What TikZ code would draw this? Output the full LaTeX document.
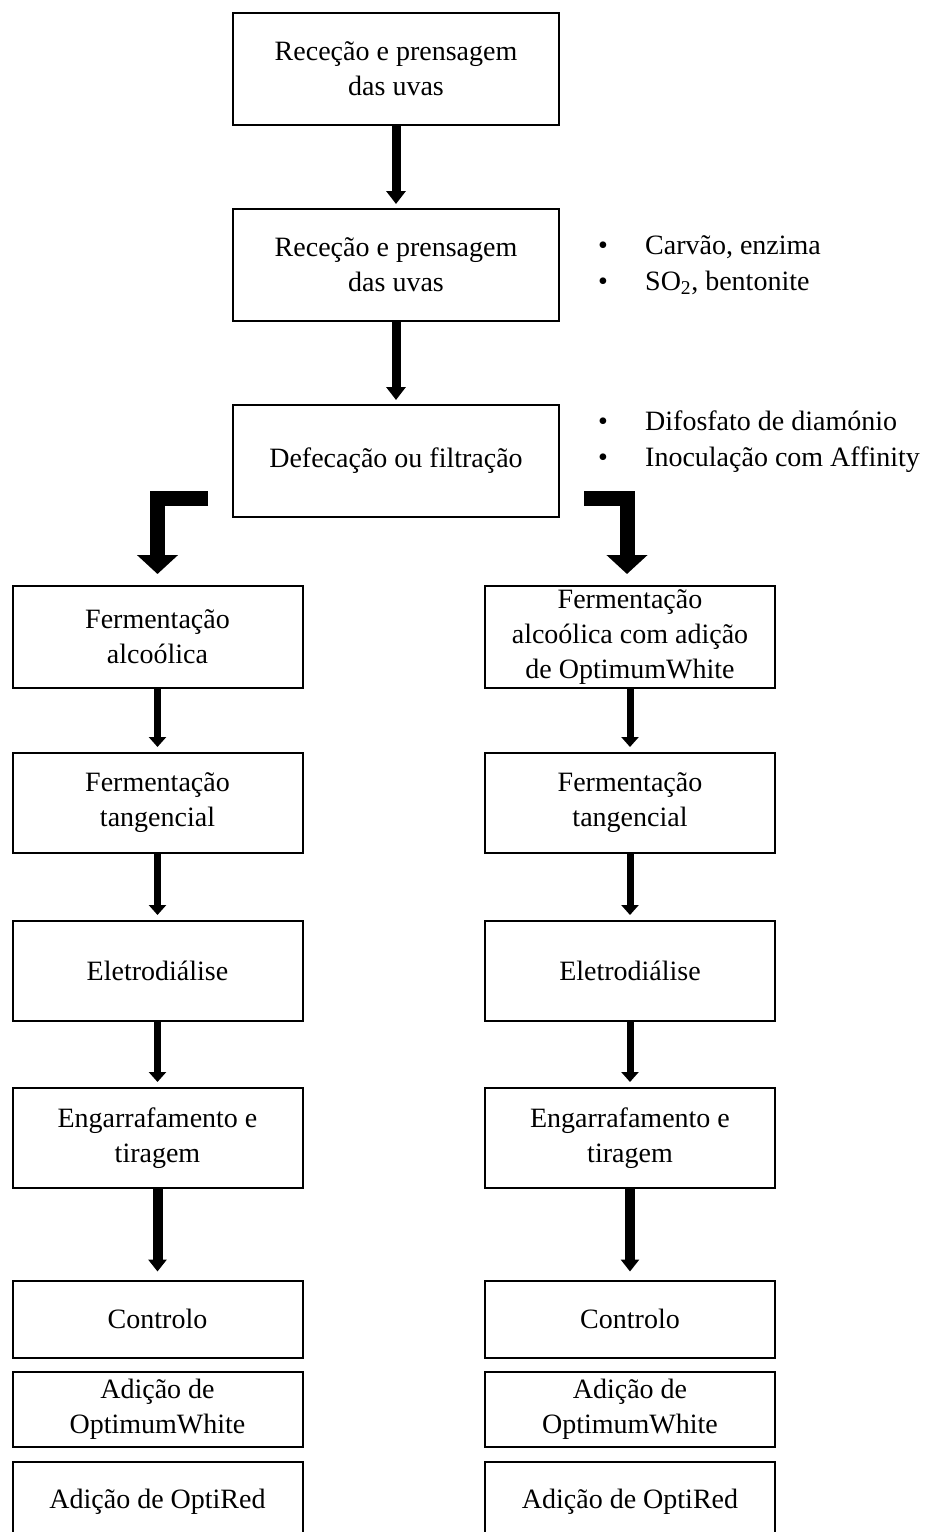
\documentclass[tikz,border=0pt]{standalone}
\usepackage{fontspec}
\setmainfont{Liberation Serif}
\usetikzlibrary{arrows.meta,positioning}

\begin{document}
\begin{tikzpicture}[x=1pt,y=-1pt,line join=miter]
\path[fill=white] (0,0) rectangle (927,1532);
\clip (0,0) rectangle (927,1532);
\tikzset{stage/.style={draw=black,line width=2pt,fill=white,align=center,inner sep=0pt,font=\fontsize{28}{35}\selectfont},wide/.style={stage,minimum width=326pt,minimum height=112pt},col/.style={stage,minimum width=290pt,minimum height=100pt},notes/.style={anchor=west,align=left,inner sep=0pt,font=\fontsize{28}{36}\selectfont},flow/.style={draw=black,line width=9pt,-{Triangle[width=19pt,length=13pt]},shorten >=4pt},bentflow/.style={draw=black,line width=15pt,-{Triangle[width=40pt,length=19pt]},shorten >=11pt},minorflow/.style={draw=black,line width=7pt,-{Triangle[width=17pt,length=10pt]},shorten >=5pt},majorflow/.style={draw=black,line width=10pt,-{Triangle[width=18pt,length=12pt]},shorten >=8pt}}
\newcommand{\blt}{\makebox[47pt][l]{\textbullet}}
\node[wide] (recA) at (396,69) {Receção e prensagem\\das uvas};
\node[wide] (recB) at (396,265) {Receção e prensagem\\das uvas};
\node[wide] (defec) at (396,461) {Defecação ou filtração};
\node[notes] (addA) at (598,265) {\blt Carvão, enzima\\\blt SO\textsubscript{2}, bentonite};
\node[notes] (addB) at (598,442) {\blt Difosfato de diamónio\\\blt Inoculação com Affinity};
\draw[flow] (recA) -- (recB);
\draw[flow] (recB) -- (defec);
\node[col,minimum height=102pt] (ferL) at (157.5,637) {Fermentação\\alcoólica};
\node[col,minimum height=102pt] (ferR) at (630,637) {Fermentação\\alcoólica com adição\\de OptimumWhite};
\draw[bentflow] ([xshift=-24pt,yshift=-37pt]defec.west) -| (ferL.north);
\draw[bentflow] ([xshift=24pt,yshift=-37pt]defec.east) -| ([xshift=-3pt]ferR.north);
\node[col] (tanL) at (157.5,803) {Fermentação\\tangencial};
\node[col] (tanR) at (630,803) {Fermentação\\tangencial};
\node[col] (eleL) at (157.5,971) {Eletrodiálise};
\node[col] (eleR) at (630,971) {Eletrodiálise};
\node[col] (engL) at (157.5,1138) {Engarrafamento e\\tiragem};
\node[col] (engR) at (630,1138) {Engarrafamento e\\tiragem};
\draw[minorflow] (ferL) -- (tanL);
\draw[minorflow] (ferR) -- (tanR);
\draw[minorflow] (tanL) -- (eleL);
\draw[minorflow] (tanR) -- (eleR);
\draw[minorflow] (eleL) -- (engL);
\draw[minorflow] (eleR) -- (engR);
\node[col,minimum height=77pt] (ctlL) at (157.5,1319) {Controlo};
\node[col,minimum height=77pt] (ctlR) at (630,1319) {Controlo};
\draw[majorflow] (engL) -- (ctlL);
\draw[majorflow] (engR) -- (ctlR);
\node[col,minimum height=75pt] (owL) at (157.5,1409) {Adição de\\OptimumWhite};
\node[col,minimum height=75pt] (owR) at (630,1409) {Adição de\\OptimumWhite};
\node[col,minimum height=80pt] (orL) at (157.5,1502) {Adição de OptiRed};
\node[col,minimum height=80pt] (orR) at (630,1502) {Adição de OptiRed};
\end{tikzpicture}
\end{document}
